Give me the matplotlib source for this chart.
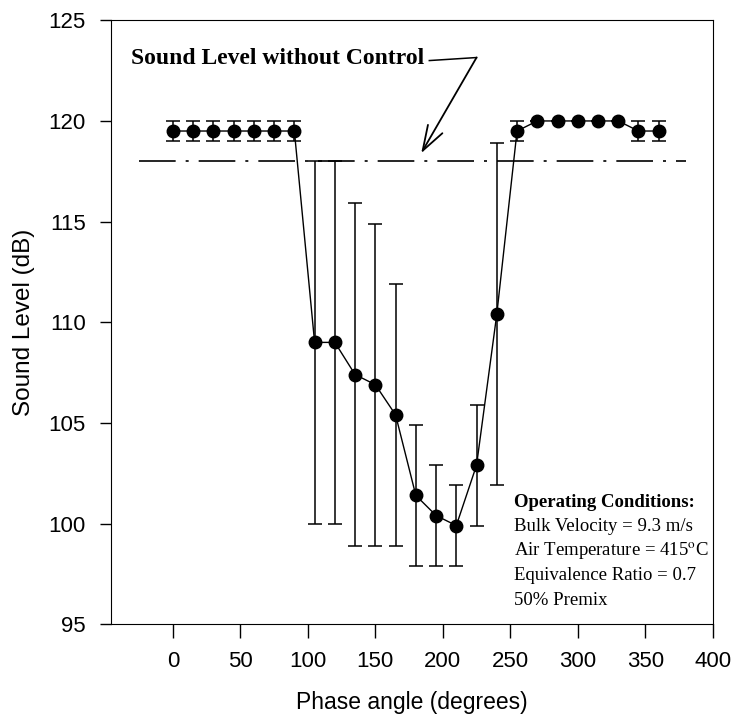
import matplotlib
matplotlib.use("Agg")
import matplotlib.pyplot as plt

plt.rcParams['font.family'] = ['Liberation Sans', 'DejaVu Sans']
plt.rcParams['mathtext.fontset'] = 'stix'

# fasvinkel (grader), ljudnivå (dB) och felstaplar (+/-)
phase = [0, 15, 30, 45, 60, 75, 90, 105, 120, 135, 150, 165, 180, 195, 210,
         225, 240, 255, 270, 285, 300, 315, 330, 345, 360]
level = [119.5, 119.5, 119.5, 119.5, 119.5, 119.5, 119.5, 109.0, 109.0, 107.4,
         106.9, 105.4, 101.4, 100.4, 99.9, 102.9, 110.4, 119.5, 120.0, 120.0,
         120.0, 120.0, 120.0, 119.5, 119.5]
err = [0.5, 0.5, 0.5, 0.5, 0.5, 0.5, 0.5, 9.0, 9.0, 8.5, 8.0, 6.5, 3.5, 2.5, 2.0,
       3.0, 8.5, 0.5, 0.0, 0.0, 0.0, 0.0, 0.0, 0.5, 0.5]

no_control = 118.0
no_control_span = [-25, 380]

conditions = ["Operating Conditions:",
              "Bulk Velocity = 9.3 m/s",
              r"Air Temperature = 415$^{\mathrm{o}}$C",
              "Equivalence Ratio = 0.7",
              "50% Premix"]

fig = plt.figure(figsize=(7.34, 7.25), dpi=100)
ax = fig.add_axes([0.151, 0.139, 0.820, 0.833])

ax.plot(no_control_span, [no_control, no_control], color='black', lw=1.2,
        dashes=(22, 6, 1.8, 6))
ax.errorbar(phase, level, yerr=err, fmt='o-', color='black', ms=9, lw=1.0,
            elinewidth=1.1, capsize=5, capthick=1.1)

ax.set_xlim(-46, 400)
ax.set_ylim(95, 125)
ax.set_xticks(range(0, 401, 50))
ax.set_yticks(range(95, 126, 5))
ax.tick_params(axis='x', direction='out', length=10, width=1, pad=9, labelsize=16)
ax.tick_params(axis='y', direction='out', length=8, width=1, pad=10, labelsize=16)
ax.set_xlabel('Phase angle (degrees)', fontsize=16.5, labelpad=14)
ax.set_ylabel('Sound Level (dB)', fontsize=17.5, labelpad=10)

# pil till referensnivån
serif = ['Liberation Serif', 'DejaVu Serif']
ax.text(-31, 123.1, 'Sound Level without Control', family=serif, weight='bold',
        fontsize=17, va='center', ha='left')
ax.plot([190, 225], [123.0, 123.15], color='black', lw=1.1)
ax.annotate('', xy=(184, 118.4), xytext=(225, 123.15),
            arrowprops=dict(arrowstyle='->,head_length=0.9,head_width=0.3',
                            color='black', lw=1.3, shrinkA=0, shrinkB=0,
                            mutation_scale=20))

for i, line in enumerate(conditions):
    ax.text(253, 101.07 - i * 1.22, line, family=serif, fontsize=13.5,
            weight='bold' if i == 0 else 'normal', va='center', ha='left')

fig.savefig('out.png', dpi=100)
